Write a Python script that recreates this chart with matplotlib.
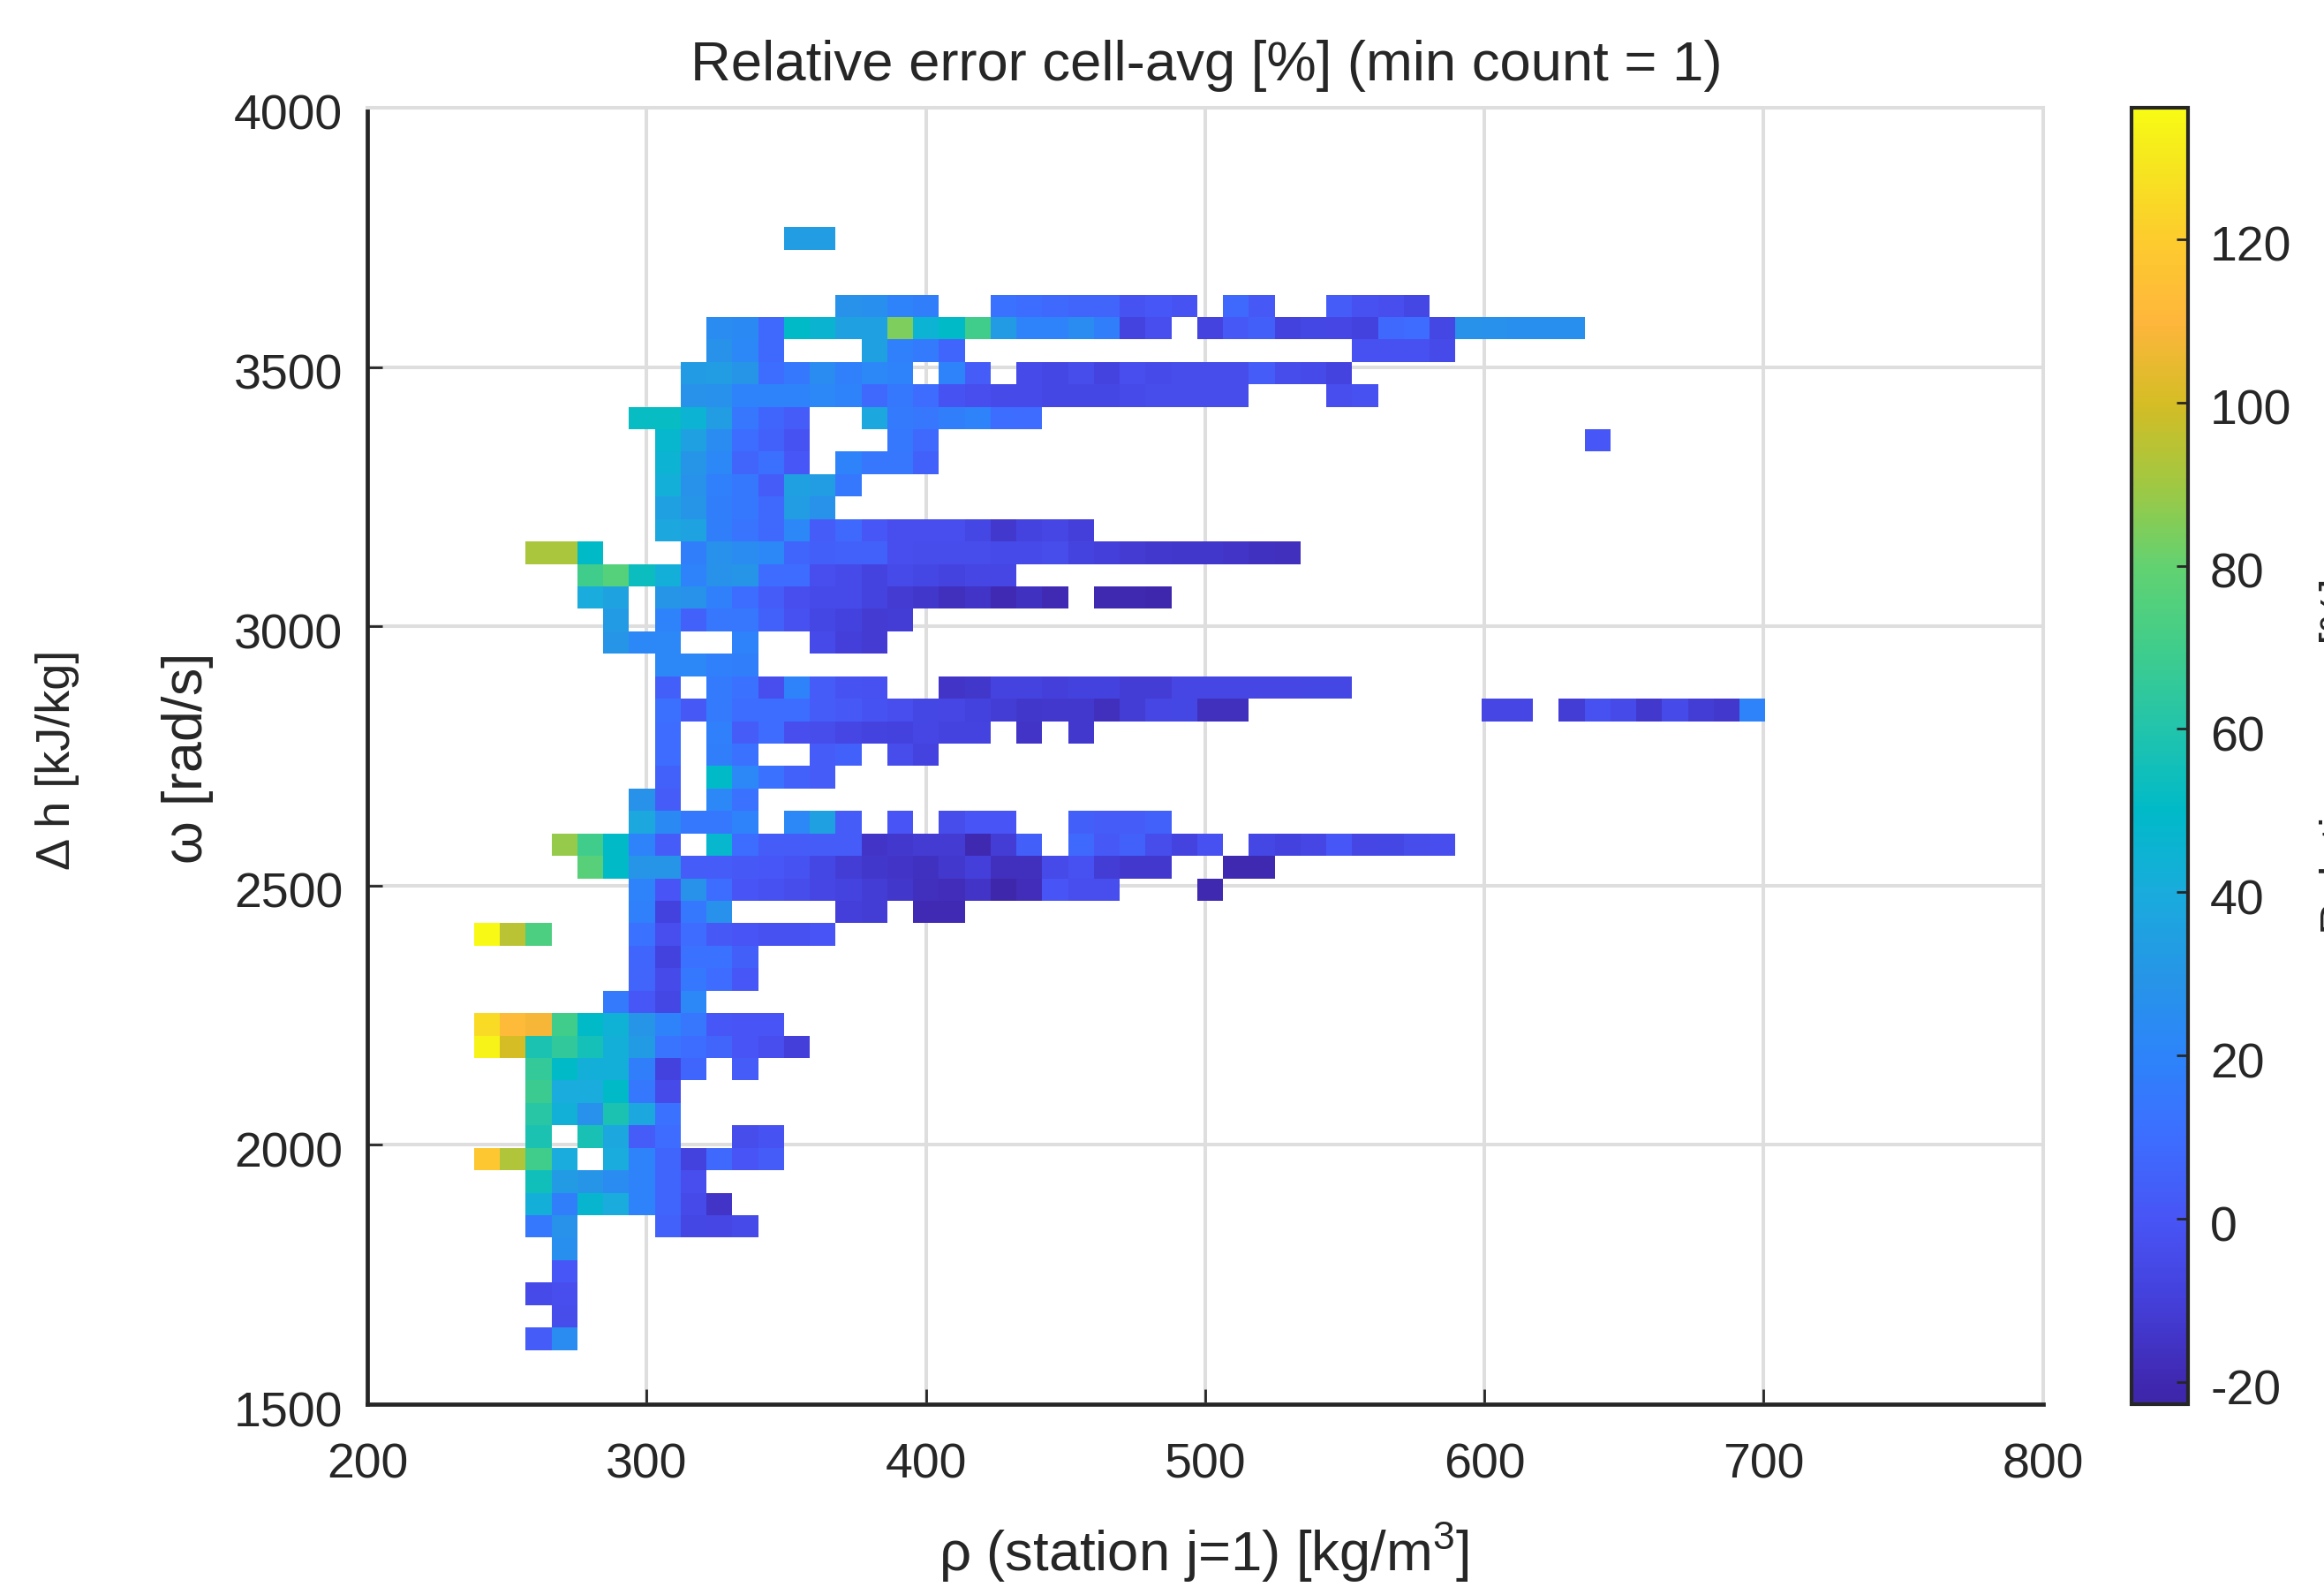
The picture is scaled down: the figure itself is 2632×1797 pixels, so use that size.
import numpy as np
import matplotlib
matplotlib.use('Agg')
import matplotlib.pyplot as plt
from matplotlib.colors import LinearSegmentedColormap
from matplotlib.transforms import ScaledTranslation

plt.rcParams['font.family'] = ['Liberation Sans', 'DejaVu Sans']
plt.rcParams['mathtext.fontset'] = 'dejavuserif'
plt.rcParams['mathtext.default'] = 'regular'
plt.rcParams['axes.unicode_minus'] = False

n = np.nan

# bin edges of the density / speed grid
rho_edges = 238.2 + 9.25 * np.arange(51)
omega_edges = 3769.7 - 43.3 * np.arange(51)

# relative error per cell, one list per omega row (top to bottom), from the first rho bin
row_00 = [n]*12 + [33, 33]
row_01 = []
row_02 = []
row_03 = [n]*14 + [28, 26, 20, 17, n, n, 12, 10, 8, 6, 6, -1, 1, -1, n, 8, 2, n, n, 3, -2, -3, -6]
row_04 = [n]*9 + [25, 23, 8, 50, 46, 35, 35, 84, 45, 50, 70, 32, 20, 20, 25, 17, -8, -3, n, -8, 2, 4, -9, -6, -7, -9, 8, 9, -6, 28, 27, 26, 26, 26]
row_05 = [n]*9 + [28, 22, 8, n, n, n, 35, 18, 16, 7] + [n]*15 + [-2, -2, -2, -5]
row_06 = [n]*8 + [32, 33, 30, 10, 15, 25, 18, 22, 20, n, 20, 3, n, -5, -6, -4, -8, -3, -5, -4, -4, -4, 3, -4, -5, -8]
row_07 = [n]*8 + [28, 27, 20, 20, 20, 22, 20, 8, 15, 9, -1, -3, -5, -5, -6, -6, -6, -5, -4, -4, -4, -4, n, n, n, -3, -2]
row_08 = [n]*6 + [52, 52, 45, 33, 14, 7, 3, n, n, 38, 16, 14, 17, 19, 10, 9]
row_09 = [n]*7 + [48, 35, 25, 10, 5, -1, n, n, n, 15, 8] + [n]*25 + [1]
row_10 = [n]*7 + [45, 30, 22, 6, 11, 1, n, 20, 14, 14, 5]
row_11 = [n]*7 + [42, 28, 18, 15, 3, 35, 33, 15]
row_12 = [n]*7 + [35, 30, 17, 15, 8, 33, 28]
row_13 = [n]*7 + [38, 36, 17, 13, 8, 22, 3, 8, 1, -3, -3, -3, -6, -13, -8, -7, -10]
row_14 = [n, n, 92, 92, 50, n, n, n, 17, 27, 25, 22, 7, 4, 5, 5, -3, -4, -4, -4, -5, -5, -4, -8, -10, -12, -13, -14, -14, -15, -16, -17]
row_15 = [n]*4 + [70, 76, 53, 42, 20, 28, 30, 9, 9, -3, -5, -8, -5, -6, -8, -7, -7]
row_16 = [n]*4 + [40, 36, n, 30, 28, 18, 10, 3, -3, -5, -5, -8, -12, -14, -17, -15, -19, -16, -19, n, -20, -20, -21]
row_17 = [n]*5 + [32, n, 20, 5, 14, 14, 5, -2, -6, -9, -12, -11]
row_18 = [n]*5 + [30, 22, 22, n, n, 20, n, n, -5, -10, -12]
row_19 = [n]*7 + [22, 22, 18, 17]
row_20 = [n]*7 + [4, n, 16, 12, -3, 20, 3, -1, -2, n, n, -15, -14, -8, -8, -10, -9, -9, -11, -11, -7, -7, -7, -7, -7, -6, -6]
row_21 = [n]*7 + [11, 2, 16, 10, 10, 10, 3, 2, -1, -3, -6, -7, -9, -11, -14, -13, -13, -17, -11, -7, -6, -17, -17] + [n]*9 + [-7, -7, n, -11, -2, -5, -13, -5, -11, -13, 20]
row_22 = [n]*7 + [9, n, 18, 3, 9, -3, -4, -7, -8, -9, -7, -8, -8, n, -15, n, -13]
row_23 = [n]*7 + [9, n, 17, 12, n, n, 3, 5, n, -4, -8]
row_24 = [n]*7 + [5, n, 50, 22, 12, 5, 3]
row_25 = [n]*6 + [28, 3, n, 22, 12]
row_26 = [n]*6 + [38, 23, 15, 15, 20, n, 22, 35, 3, n, 0, n, -4, 0, 0, n, n, 4, 3, 3, 5]
row_27 = [n]*3 + [88, 70, 50, 20, 3, n, 48, 10, 3, 3, 3, 3, -15, -13, -12, -12, -20, -11, 4, n, 8, 2, 5, -4, -8, -2, n, -6, -9, -7, 1, -7, -6, -4, -3]
row_28 = [n]*4 + [77, 50, 30, 30, 3, 3, 2, 1, -1, -6, -11, -14, -15, -16, -13, -10, -17, -17, -5, -2, -11, -13, -13, n, n, -20, -20]
row_29 = [n]*6 + [20, 0, 28, 10, 0, -2, -4, -7, -8, -11, -14, -17, -18, -15, -22, -18, 0, -3, -3, n, n, n, -20]
row_30 = [n]*6 + [18, -9, 15, 27, n, n, n, n, -10, -11, n, -19, -19]
row_31 = [135, 95, 74, n, n, n, 12, -3, 9, 2, 0, -2, -2, 0]
row_32 = [n]*6 + [7, -9, 12, 12, 4]
row_33 = [n]*6 + [6, -5, 15, 9, 1]
row_34 = [n]*5 + [16, 1, -6, 22]
row_35 = [125, 112, 108, 70, 50, 44, 30, 20, 14, 1, 0, 0]
row_36 = [133, 100, 58, 65, 56, 42, 32, 13, 10, 6, 0, -3, -10]
row_37 = [n, n, 66, 50, 42, 42, 17, -9, 7, n, 3]
row_38 = [n, n, 68, 40, 40, 50, 15, -5]
row_39 = [n, n, 62, 43, 27, 58, 38, 12]
row_40 = [n, n, 58, n, 57, 38, 3, 9, n, n, -4, -1]
row_41 = [118, 93, 70, 40, n, 40, 20, 7, -9, 8, 0, 3]
row_42 = [n, n, 55, 32, 30, 25, 20, 7, -3]
row_43 = [n, n, 42, 17, 47, 40, 20, 7, -5, -15]
row_44 = [n, n, 15, 28, n, n, n, 5, -6, -7, -5]
row_45 = [n, n, n, 26]
row_46 = [n, n, n, 1]
row_47 = [n, n, -5, -3]
row_48 = [n, n, n, -4]
row_49 = [n, n, 3, 25]

rows = [row_00, row_01, row_02, row_03, row_04, row_05, row_06, row_07, row_08, row_09,
        row_10, row_11, row_12, row_13, row_14, row_15, row_16, row_17, row_18, row_19,
        row_20, row_21, row_22, row_23, row_24, row_25, row_26, row_27, row_28, row_29,
        row_30, row_31, row_32, row_33, row_34, row_35, row_36, row_37, row_38, row_39,
        row_40, row_41, row_42, row_43, row_44, row_45, row_46, row_47, row_48, row_49]

x_ticks = [200, 300, 400, 500, 600, 700, 800]
y_ticks = [1500, 2000, 2500, 3000, 3500, 4000]
cbar_ticks = [-20, 0, 20, 40, 60, 80, 100, 120]
c_min, c_max = -22.7, 136.1

# parula-like colours
cmap_vals = [-22.7, -20, -10, 0, 10, 20, 30, 40, 50, 60, 70, 80, 90, 100, 110, 120, 130, 136.1]
cmap_cols = ['#3e26a8', '#4029b2', '#4440db', '#4855f6', '#3c6eff', '#2d84fa', '#2696e6',
             '#19acdc', '#00bac8', '#22c4ac', '#40cd8b', '#62d271', '#a0c842', '#d4bd25',
             '#feb63c', '#fdcb2e', '#f6e81e', '#f8fb14']

grid = np.full((len(rows), len(rho_edges) - 1), np.nan)
for i, row in enumerate(rows):
    grid[i, :len(row)] = row

W, H = 2632, 1797
ax_l, ax_r, ax_t, ax_b = 416, 2313.5, 122, 1590
text_col = '#262626'
grid_col = '#dedede'

fig = plt.figure(figsize=(W / 100, H / 100), dpi=100)
ax = fig.add_axes([ax_l / W, 1 - ax_b / H, (ax_r - ax_l) / W, (ax_b - ax_t) / H])

cmap = LinearSegmentedColormap.from_list(
    'err', [((v - c_min) / (c_max - c_min), c) for v, c in zip(cmap_vals, cmap_cols)], N=256)
mesh = ax.pcolormesh(rho_edges, omega_edges, np.ma.masked_invalid(grid),
                     cmap=cmap, vmin=c_min, vmax=c_max, zorder=2)

ax.set_xlim(200, 800)
ax.set_ylim(1500, 4000)
ax.set_xticks(x_ticks)
ax.set_yticks(y_ticks)
ax.grid(True, color=grid_col, linewidth=2.9)
ax.set_axisbelow(True)
ax.tick_params(axis='x', direction='in', length=12, width=2, colors=text_col, labelsize=40, pad=31)
ax.tick_params(axis='y', direction='in', length=12, width=2, colors=text_col, labelsize=40, pad=20)
for side in ['left', 'bottom']:
    ax.spines[side].set_color(text_col)
    ax.spines[side].set_linewidth(3.4)
for side in ['top', 'right']:
    ax.spines[side].set_color(grid_col)
    ax.spines[side].set_linewidth(2.9)

fig.text(1366 / W, 1 - 74 / H, 'Relative error cell-avg [%] (min count = 1)',
         fontsize=45.6, color=text_col, ha='center', va='center')
fig.text(1363 / W, 1 - 1758 / H, r'$\rho$ (station j=1) [kg/m$^3$]',
         fontsize=45.6, color=text_col, ha='center', va='center')
fig.text(212 / W, 1 - 860 / H, r'$\omega$ [rad/s]',
         fontsize=45, color=text_col, ha='center', va='center', rotation=90)
fig.text(65 / W, 1 - 860 / H, '\u0394 h [kJ/kg]',
         fontsize=39, color=text_col, ha='center', va='center', rotation=90)

cax = fig.add_axes([2413.5 / W, 1 - ax_b / H, 64.5 / W, (ax_b - ax_t) / H])
cbar = fig.colorbar(mesh, cax=cax)
cbar.set_ticks(cbar_ticks)
cbar.ax.tick_params(direction='in', length=9.5, width=2, colors=text_col, labelsize=40, pad=18)
cbar.outline.set_edgecolor(text_col)
cbar.outline.set_linewidth(3)

# tick labels sit a few pixels below their ticks in the original
down = ScaledTranslation(0, -5 / 100, fig.dpi_scale_trans)
for label in ax.get_yticklabels() + cbar.ax.get_yticklabels():
    label.set_transform(label.get_transform() + down)

# the colorbar label runs off the right edge in the original
fig.text(2627 / W, 1 - 856 / H, 'Relative error [%]',
         fontsize=37.6, color=text_col, ha='left', va='center', rotation=90)

fig.savefig('out.png', dpi=100)
